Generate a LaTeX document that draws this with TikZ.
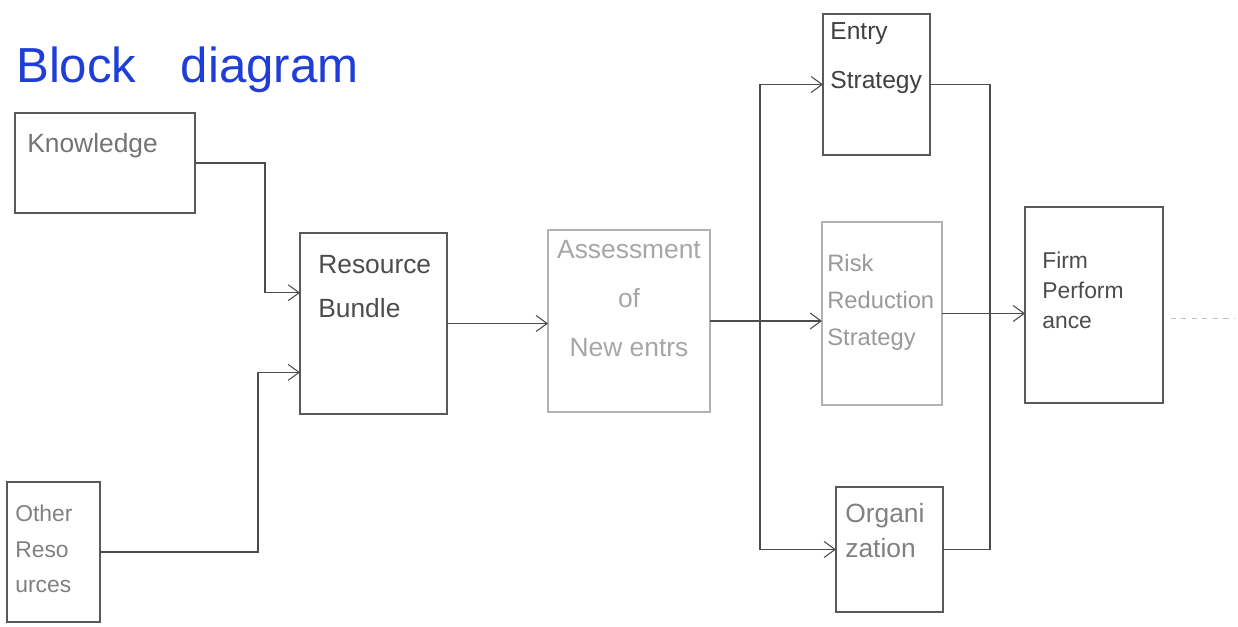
\documentclass[tikz,border=0pt]{standalone}
\usepackage{fontspec}
\setmainfont{Liberation Sans}
\usepackage{xcolor}
\usepackage{tikz}
\usetikzlibrary{arrows.meta,positioning,calc}
\definecolor{pen}{RGB}{30,62,215}

\begin{document}
\begin{tikzpicture}[>={Straight Barb[length=2.2mm,width=3.2mm]},
  font=\fontsize{14}{20}\selectfont,
  block/.style={draw=black!65, line width=0.6pt, inner sep=0pt, outer sep=0pt},
  pale/.style={block, draw=black!30},
  txt/.style={anchor=north west, inner sep=0pt, align=left},
  flow/.style={->, draw=black!70, line width=0.6pt},
  wire/.style={draw=black!70, line width=0.6pt}]
\useasboundingbox (0,0) rectangle (24.76,12.52);
% --- Title ---
\node[anchor=west, text=pen, font=\fontsize{28}{32}\selectfont] (title)
  at (0.20,11.12) {Block\hspace{0.9em}diagram};
% --- Input blocks ---
\node[block, minimum width=3.60cm, minimum height=2.00cm] (know) at (2.10,9.26) {};
\node[txt, text=black!55, font=\fontsize{15}{20}\selectfont]
  at ([shift={(0.24,-0.40)}]know.north west) {Knowledge};
\node[block, minimum width=1.86cm, minimum height=2.80cm] (oth) at (1.07,1.48) {};
\node[txt, text=black!50, font=\fontsize{13}{20}\selectfont]
  at ([shift={(0.16,-0.46)}]oth.north west) {Other\\Reso\\urces};
% --- Middle blocks ---
\node[block, minimum width=2.94cm, minimum height=3.62cm] (rb) at (7.47,6.05) {};
\node[txt, text=black!70, font=\fontsize{15}{25}\selectfont]
  at ([shift={(0.36,-0.44)}]rb.north west) {Resource\\Bundle};
\node[pale, minimum width=3.24cm, minimum height=3.64cm] (as) at (12.58,6.10) {};
\node[anchor=north, inner sep=0pt, align=center, text=black!35,
  font=\fontsize{15}{28}\selectfont]
  at ([yshift=-0.20cm]as.north) {Assessment\\of\\New entrs};
% --- Strategy blocks ---
\node[block, minimum width=2.14cm, minimum height=2.82cm] (entry) at (17.53,10.83) {};
\node[txt, text=black!75, font=\fontsize{14}{28}\selectfont]
  at ([shift={(0.14,-0.16)}]entry.north west) {Entry\\Strategy};
\node[pale, minimum width=2.40cm, minimum height=3.66cm] (risk) at (17.64,6.25) {};
\node[txt, text=black!40, font=\fontsize{13.5}{21}\selectfont]
  at ([shift={(0.10,-0.64)}]risk.north west) {Risk\\Reduction\\Strategy};
\node[block, minimum width=2.14cm, minimum height=2.50cm] (org) at (17.79,1.53) {};
\node[txt, text=black!50, font=\fontsize{15}{20}\selectfont]
  at ([shift={(0.18,-0.32)}]org.north west) {Organi\\zation};
% --- Output block ---
\node[block, minimum width=2.76cm, minimum height=3.92cm] (firm) at (21.88,6.42) {};
\node[txt, text=black!70, font=\fontsize{13}{17}\selectfont]
  at ([shift={(0.34,-0.90)}]firm.north west) {Firm\\Perform\\ance};
% --- Connectors ---
\coordinate (rbin1) at ($(rb.north west)!0.33!(rb.south west)$);
\coordinate (rbin2) at ($(rb.north west)!0.77!(rb.south west)$);
\draw[flow] (know.east) -- ++(1.40,0) |- (rbin1);
\draw[flow] (oth.east) -- ++(3.16,0) |- (rbin2);
\draw[flow] (rb.east) -- (rb.east -| as.west);
\coordinate (split) at ($(as.east)+(1.00,0)$);
\draw[flow] (as.east) -- (as.east -| risk.west);
\draw[flow] (split) |- (entry.west);
\draw[flow] (split) |- (org.west);
\coordinate (join) at ($(org.east)+(0.94,0)$);
\draw[wire] (entry.east) -| (join);
\draw[wire] (org.east) -- (join);
\draw[flow] (risk.east) -- (risk.east -| firm.west);
% faint trace after the output
\coordinate (tail) at (24.70,6.16);
\draw[black!25, dashed, line width=0.5pt] ([xshift=0.15cm]firm.east |- tail) -- (tail);
\end{tikzpicture}
\end{document}
